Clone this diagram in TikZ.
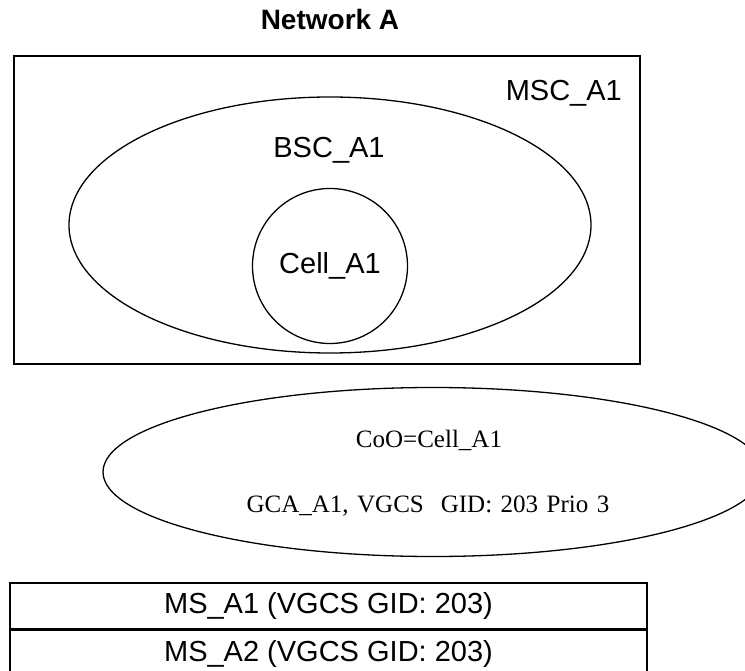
\documentclass[tikz,border=0pt]{standalone}
\usepackage{fontspec}
\setmainfont{Liberation Sans}
\newfontfamily\serifface{Liberation Serif}
\newcommand\gcafont{\serifface\fontsize{25}{29}\selectfont\spaceskip=8.5pt\relax}
\usetikzlibrary{shapes.geometric,positioning}

\begin{document}
\begin{tikzpicture}[
    x=1pt, y=-1pt,
    font=\fontsize{29}{34}\selectfont,
    outline/.style={draw=black, line width=1.3pt, inner sep=0pt},
    area/.style={outline, ellipse},
    tag/.style={inner sep=0pt, anchor=base},
    gcatext/.style={tag, font=\gcafont},
    row/.style={draw=black, line width=1.6pt, minimum width=637pt, minimum height=46pt, inner sep=0pt}
]
    \useasboundingbox (0,0) rectangle (745,671);

    % Nodes
    \node[tag, font=\fontsize{28}{33}\selectfont\bfseries] (title) at (330,30) {Network A};

    \node[outline, minimum width=626pt, minimum height=308pt] (msc) at (327,210) {};
    \node[tag, anchor=base east] (msclabel) at (622,101) {MSC\_A1};

    \node[area, minimum width=522pt, minimum height=256pt] (bsc) at (330,225) {};
    \node[tag] (bsclabel) at (329,158) {BSC\_A1};

    \node[outline, circle, minimum size=155pt] (cell) at (330,266) {Cell\_A1};

    \node[area, minimum width=660pt, minimum height=169pt] (gca) at (433,472) {};
    \node[gcatext] (coo) at (429,447) {CoO=Cell\_A1};
    \node[gcatext] (gid) at (428,512) {GCA\_A1, VGCS\ \ GID: 203 Prio 3};

    % Table
    \node[row] (ms1) at (328.5,606) {MS\_A1 (VGCS GID: 203)};
    \node[row, below=0pt of ms1] (ms2) {MS\_A2 (VGCS GID: 203)};
\end{tikzpicture}
\end{document}
